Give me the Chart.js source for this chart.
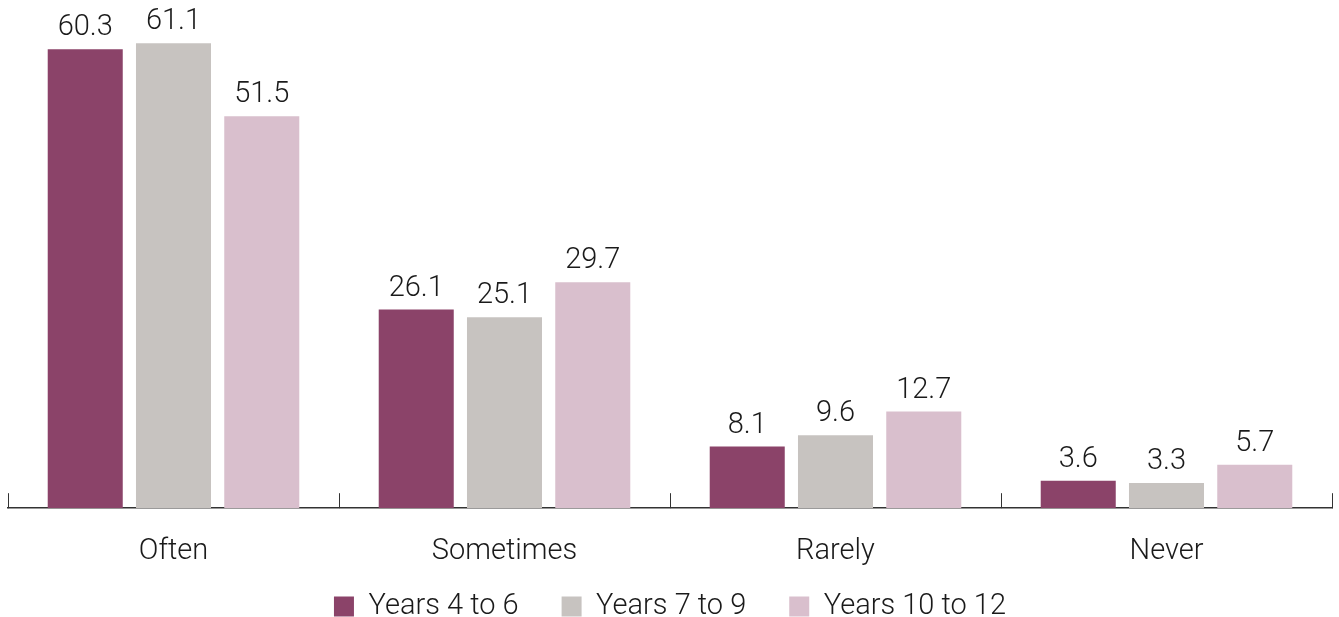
<!DOCTYPE html>
<html>
<head>
<meta charset="utf-8">
<script src="https://cdn.jsdelivr.net/npm/chart.js@4/dist/chart.umd.min.js"></script>
<style>
  html, body { margin: 0; padding: 0; background: #fff; }
  #wrap { width: 1339px; height: 617px; position: relative; }
</style>
</head>
<body>
<div id="wrap"><canvas id="freqChart"></canvas></div>
<script>
const categories = ['Often', 'Sometimes', 'Rarely', 'Never'];
const seriesNames = ['Years 4 to 6', 'Years 7 to 9', 'Years 10 to 12'];
const years4to6 = [60.3, 26.1, 8.1, 3.6];
const years7to9 = [61.1, 25.1, 9.6, 3.3];
const years10to12 = [51.5, 29.7, 12.7, 5.7];
const colours = ['#8b4369', '#c7c3c0', '#d9bfcd'];

const fontFamily = "Roboto, 'Liberation Sans', sans-serif";

// value labels above each bar
const valueLabels = {
  id: 'valueLabels',
  afterDatasetsDraw(chart) {
    const ctx = chart.ctx;
    ctx.save();
    ctx.font = '300 29px ' + fontFamily;
    ctx.fillStyle = '#1a1a1a';
    ctx.textAlign = 'center';
    ctx.textBaseline = 'alphabetic';
    chart.data.datasets.forEach((ds, i) => {
      chart.getDatasetMeta(i).data.forEach((bar, j) => {
        ctx.fillText(ds.data[j].toFixed(1), bar.x, bar.y - 14);
      });
    });
    ctx.restore();
  }
};

// small upward ticks at category boundaries
const boundaryTicks = {
  id: 'boundaryTicks',
  afterDraw(chart) {
    const xs = chart.scales.x;
    const ctx = chart.ctx;
    const bottom = chart.chartArea.bottom;
    const step = (xs.right - xs.left) / categories.length;
    ctx.save();
    ctx.strokeStyle = '#333';
    ctx.lineWidth = 1;
    for (let i = 0; i <= categories.length; i++) {
      const x = Math.round(xs.left + i * step) + 0.5;
      ctx.beginPath();
      ctx.moveTo(x, bottom - 15);
      ctx.lineTo(x, bottom);
      ctx.stroke();
    }
    ctx.restore();
  }
};

// pull the legend row up closer to the category labels
const legendShift = {
  id: 'legendShift',
  afterLayout(chart) {
    chart.legend.top -= 38;
    chart.legend.bottom -= 38;
  }
};

new Chart(document.getElementById('freqChart'), {
  type: 'bar',
  data: {
    labels: categories,
    datasets: [
      { label: seriesNames[0], data: years4to6, backgroundColor: colours[0] },
      { label: seriesNames[1], data: years7to9, backgroundColor: colours[1] },
      { label: seriesNames[2], data: years10to12, backgroundColor: colours[2] }
    ]
  },
  options: {
    responsive: true,
    maintainAspectRatio: false,
    animation: false,
    layout: { padding: { top: 6, left: 8, right: 7, bottom: -52 } },
    datasets: { bar: { categoryPercentage: 0.8, barPercentage: 0.85 } },
    scales: {
      x: {
        grid: { display: false },
        border: { display: true, color: '#333', width: 1.5 },
        ticks: { color: '#1a1a1a', padding: 18, font: { family: fontFamily, size: 29, weight: 300 } }
      },
      y: {
        display: false,
        min: 0,
        max: 66
      }
    },
    plugins: {
      legend: {
        position: 'bottom',
        labels: {
          color: '#1a1a1a',
          boxWidth: 20,
          boxHeight: 20,
          padding: 43,
          font: { family: fontFamily, size: 29, weight: 300 }
        }
      },
      tooltip: { enabled: false }
    }
  },
  plugins: [valueLabels, boundaryTicks, legendShift]
});
</script>
</body>
</html>
